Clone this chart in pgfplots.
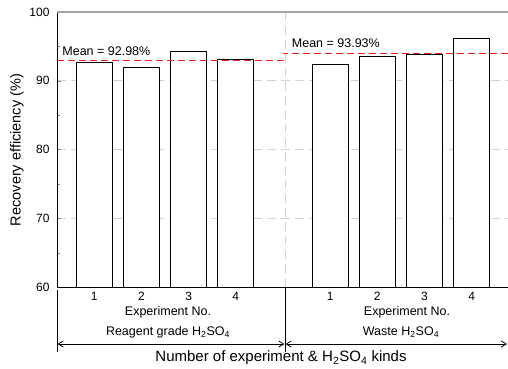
\documentclass[border=0pt]{standalone}
\usepackage{fontspec}
\setmainfont{Liberation Sans}
\usepackage{pgfplots}
\pgfplotsset{compat=1.18}
\usetikzlibrary{arrows.meta}
\definecolor{meanred}{RGB}{235,30,30}
\begin{document}
\begin{tikzpicture}
\path[use as bounding box] (0,0) rectangle (508bp,-369bp);
\begin{axis}[
  at={(57bp,-287bp)}, anchor=south west,
  scale only axis, width=451bp, height=275bp,
  xmin=0.21, xmax=9.77, ymin=60, ymax=100,
  axis x line=bottom, axis y line=left,
  axis line style={-, black, line width=0.9bp},
  ytick={60,70,80,90,100}, minor ytick={65,75,85,95},
  tick align=inside, major tick length=4bp, minor tick length=3bp,
  ytick pos=left,
  xtick={1,2,3,4,6,7,8,9}, xticklabels={1,2,3,4,1,2,3,4},
  x tick style={draw=none},
  ymajorgrids, grid style={gray!35, line width=0.8bp, dash pattern=on 9bp off 5bp},
  tick label style={font=\fontsize{12bp}{14bp}\selectfont},
  /pgf/number format/assume math mode=true,
  yticklabel style={xshift=-4bp},
  xticklabel style={yshift=-2bp},
  clip=false,
]
\addplot[gray!35, line width=0.8bp, dash pattern=on 9bp off 5bp, forget plot] coordinates {(5.06,60) (5.06,100)};
\addplot[ybar, bar width=0.766, draw=black, fill=white, line width=1bp, forget plot] coordinates {(1,92.65) (2,91.9) (3,94.26) (4,93.09)};
\addplot[ybar, bar width=0.766, draw=black, fill=white, line width=1bp, forget plot] coordinates {(6,92.3) (7,93.47) (8,93.85) (9,96.1)};
\addplot[draw=meanred, line width=1.3bp, dash pattern=on 7bp off 4bp, forget plot] table {
x y
0.21 92.98
5.06 92.98
};
\addplot[draw=meanred, line width=1.3bp, dash pattern=on 7bp off 4bp, forget plot] table {
x y
9.77 93.98
5.00 93.98
};
\draw[gray!70, line width=1.3bp] (rel axis cs:0,1) -- (rel axis cs:1,1);
\node[anchor=west, inner sep=0, font=\fontsize{12.5bp}{15bp}\selectfont] at (axis cs:0.32,94.25) {Mean = 92.98\%};
\node[anchor=west, inner sep=0, font=\fontsize{12.5bp}{15bp}\selectfont] at (axis cs:5.185,95.42) {Mean = 93.93\%};
\end{axis}
\draw[black, line width=0.8bp] (57bp,-290bp) -- (57bp,-352bp);
\draw[black, line width=0.8bp] (285bp,-287bp) -- (285bp,-352bp);
\draw[black, line width=0.8bp, {Straight Barb[length=5bp,width=6bp]}-{Straight Barb[length=5bp,width=6bp]}] (57.5bp,-344bp) -- (284.5bp,-344bp);
\draw[black, line width=0.8bp, {Straight Barb[length=5bp,width=6bp]}-{Straight Barb[length=5bp,width=6bp]}] (285.5bp,-344bp) -- (507bp,-344bp);
\begin{scope}[every node/.style={font=\fontsize{12.5bp}{15bp}\selectfont, inner sep=0}]
\node at (168bp,-312bp) {Experiment No.};
\node at (407bp,-312bp) {Experiment No.};
\node at (168bp,-332bp) {Reagent grade H\textsubscript{2}SO\textsubscript{4}};
\node at (401bp,-332bp) {Waste H\textsubscript{2}SO\textsubscript{4}};
\end{scope}
\node[inner sep=0, font=\fontsize{15bp}{18bp}\selectfont] at (281bp,-358bp) {Number of experiment \& H\textsubscript{2}SO\textsubscript{4} kinds};
\node[inner sep=0, rotate=90, font=\fontsize{14.5bp}{17bp}\selectfont] at (17bp,-150bp) {Recovery efficiency (\%)};
\end{tikzpicture}
\end{document}
